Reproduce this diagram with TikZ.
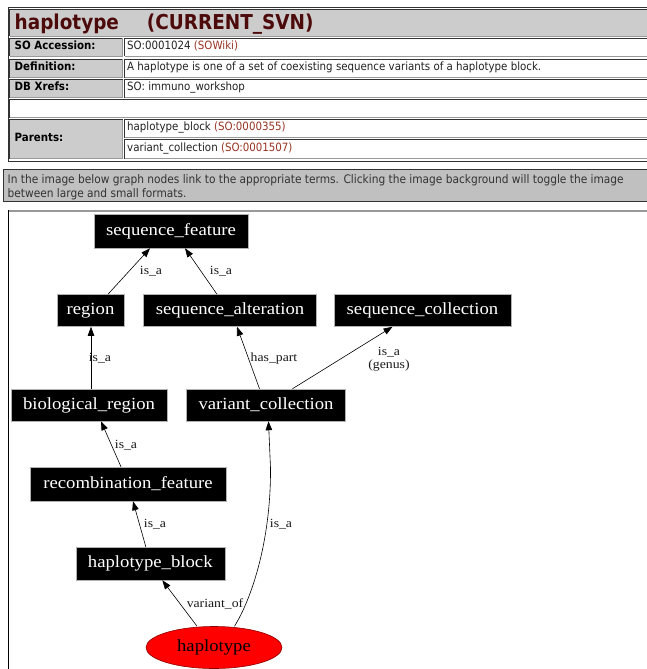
\documentclass[tikz,border=0pt]{standalone}
\usepackage{fontspec}
\usetikzlibrary{arrows.meta,shapes.geometric}
\newfontfamily\htmlfont{DejaVu Sans Condensed}
\newfontfamily\dotfont[FakeStretch=1.1]{Liberation Serif}
\definecolor{cellgray}{HTML}{CCCCCC}
\definecolor{infogray}{HTML}{C0C0C0}
\definecolor{titlered}{HTML}{4D0A0A}
\definecolor{linkbrown}{HTML}{993322}
\definecolor{edgedark}{HTML}{333333}
\definecolor{edgelight}{HTML}{999999}
\definecolor{bodytext}{HTML}{222222}

% one table cell with an inset border: x1 y1 x2 y2 fill
\newcommand{\htmlcell}[5]{%
  \fill[#5] (#1,#2) rectangle (#3,#4);
  \draw[edgedark] (#1,#4) -- (#1,#2) -- (#3,#2);
  \draw[edgelight] (#3,#2) -- (#3,#4) -- (#1,#4);
}

\tikzset{
  lbl/.style={font=\htmlfont\bfseries\fontsize{11.4}{13}\selectfont, anchor=mid west, inner sep=0pt, text=black},
  val/.style={font=\htmlfont\fontsize{11.4}{13}\selectfont, anchor=mid west, inner sep=0pt, text=bodytext},
  term/.style={rectangle, fill=black, draw=gray!60, line width=0.5pt, text=white,
    font=\dotfont\fontsize{17}{17}\selectfont, inner sep=0pt, minimum height=32pt},
  rel/.style={font=\dotfont\fontsize{12.5}{12.5}\selectfont, inner sep=1pt, text=black!90, align=center},
  isarrow/.style={draw=black, line width=0.6pt, -{Triangle[length=9pt,width=6.5pt]}},
}

\begin{document}
\begin{tikzpicture}[x=1pt,y=-1pt]
\useasboundingbox (0,0) rectangle (647,669);
\fill[white] (0,0) rectangle (647,669);

% ---- term table ----
\draw[edgedark, line width=1pt] (8,7.5) -- (660,7.5);
\draw[edgedark, line width=1pt] (8,7.5) -- (8,161) -- (660,161);
\htmlcell{9.5}{9.5}{660}{36.5}{cellgray}
\node[anchor=base west, inner sep=0pt, font=\htmlfont\bfseries\fontsize{20.5}{22}\selectfont, text=titlered]
  (title) at (14.5,30) {haplotype\hspace{28pt}(CURRENT\_SVN)};

\htmlcell{9.5}{38.5}{122.5}{56.5}{cellgray}
\htmlcell{124.5}{38.5}{660}{56.5}{white}
\node[lbl] (acclbl) at (14.5,47.5) {SO Accession:};
\node[val] (accval) at (127,47.5) {SO:0001024 \textcolor{linkbrown}{(SOWiki)}};

\htmlcell{9.5}{59.5}{122.5}{77.5}{cellgray}
\htmlcell{124.5}{59.5}{660}{77.5}{white}
\node[lbl] (deflbl) at (14.5,68.5) {Definition:};
\node[val] (defval) at (127,68.5) {A haplotype is one of a set of coexisting sequence variants of a haplotype block.};

\htmlcell{9.5}{79.5}{122.5}{97.5}{cellgray}
\htmlcell{124.5}{79.5}{660}{97.5}{white}
\node[lbl] (xreflbl) at (14.5,88.5) {DB Xrefs:};
\node[val] (xrefval) at (127,88.5) {SO: immuno\_workshop};

\htmlcell{9.5}{99.5}{660}{117.5}{white}

\htmlcell{9.5}{119.5}{122.5}{158.5}{cellgray}
\htmlcell{124.5}{119.5}{660}{137.5}{white}
\htmlcell{124.5}{139.5}{660}{158.5}{white}
\node[lbl] (parlbl) at (14.5,139) {Parents:};
\node[val] (par1) at (127,128.5) {haplotype\_block \textcolor{linkbrown}{(SO:0000355)}};
\node[val] (par2) at (127,149) {variant\_collection \textcolor{linkbrown}{(SO:0001507)}};

% ---- note box ----
\fill[infogray] (3,169.5) rectangle (660,201.5);
\draw[edgedark, line width=1pt] (660,169.5) -- (3,169.5) -- (3,201.5) -- (660,201.5);
\node[val, font=\htmlfont\fontsize{11.8}{13}\selectfont, text=edgedark] (note1) at (7.5,181.5)
  {In the image below graph nodes link to the appropriate terms. Clicking the image background will toggle the image};
\node[val, font=\htmlfont\fontsize{11.8}{13}\selectfont, text=edgedark] (note2) at (7.5,195)
  {between large and small formats.};

% ---- graph frame ----
\draw[edgelight, line width=2pt] (8,211) -- (660,211);
\draw[black, line width=1.2pt] (8.5,210) -- (8.5,672);

% ---- graph nodes ----
\node[term, minimum width=154pt, minimum height=34pt] (sf) at (171,231) {sequence\_feature};
\node[term, minimum width=67pt] (region) at (90.5,310.5) {region};
\node[term, minimum width=173pt] (salt) at (230,310.5) {sequence\_alteration};
\node[term, minimum width=177pt] (scol) at (422.5,310.5) {sequence\_collection};
\node[term, minimum width=156pt] (bio) at (89,405) {biological\_region};
\node[term, minimum width=159pt] (vcol) at (266,405) {variant\_collection};
\node[term, minimum width=196pt, minimum height=34pt] (rec) at (128,484) {recombination\_feature};
\node[term, minimum width=149pt, minimum height=33pt] (hb) at (150.3,563.5) {haplotype\_block};
\node[ellipse, fill=red, draw=red!55!black, line width=0.6pt, minimum width=136pt, minimum height=42pt,
  inner sep=0pt, text=black, font=\dotfont\fontsize{17}{17}\selectfont] (hap) at (214,647.5) {haplotype};

% ---- relations ----
\draw[isarrow] ([xshift=17.5pt]region.north) -- ([xshift=-21pt]sf.south);
\draw[isarrow] ([xshift=-13pt]salt.north) -- ([xshift=14pt]sf.south);
\draw[isarrow] ([xshift=2pt]bio.north) -- ([xshift=0.5pt]region.south);
\draw[isarrow] ([xshift=-6.5pt]vcol.north) -- ([xshift=7pt]salt.south);
\draw[isarrow] ([xshift=26.5pt]vcol.north) -- ([xshift=-30pt]scol.south);
\draw[isarrow] ([xshift=-7pt]rec.north) -- ([xshift=12pt]bio.south);
\draw[isarrow] ([xshift=-4.5pt]hb.north) -- ([xshift=5pt]rec.south);
\draw[isarrow] ([xshift=-17pt]hap.north) -- ([xshift=12pt]hb.south);
\coordinate (bend) at (270.5,468);
\draw[isarrow] ([xshift=20.5pt]hap.north) .. controls (252,598) and (271,540) .. (bend) -- ([xshift=2.5pt]vcol.south);

\node[rel] (r1) at (151,271) {is\_a};
\node[rel] (r2) at (221,271) {is\_a};
\node[rel] (r3) at (100,358) {is\_a};
\node[rel] (r4) at (274,358) {has\_part};
\node[rel] (r5) at (389,359) {is\_a\\(genus)};
\node[rel] (r6) at (126,445) {is\_a};
\node[rel] (r7) at (155,524) {is\_a};
\node[rel] (r8) at (215,604) {variant\_of};
\node[rel] (r9) at (281,524) {is\_a};
\end{tikzpicture}
\end{document}
